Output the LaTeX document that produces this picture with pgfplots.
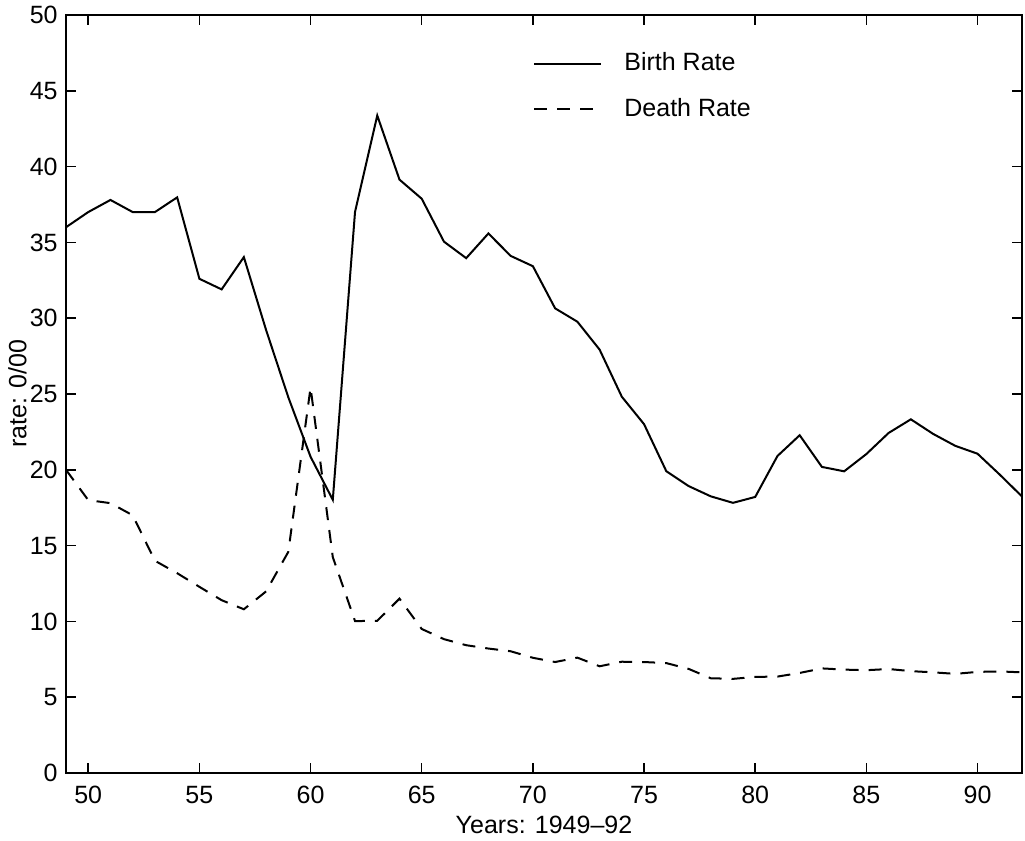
\documentclass[border=0pt]{standalone}
\usepackage{pgfplots}
\pgfplotsset{compat=1.18}
\usepackage{fontspec}
\setmainfont{Liberation Sans}
\begin{document}
\begin{tikzpicture}
\begin{axis}[
  scale only axis,
  width=478pt, height=379pt,
  xmin=49, xmax=92, ymin=0, ymax=50,
  xtick={50,55,...,90}, ytick={0,5,...,50},
  tick align=inside,
  major tick length=5pt,
  axis line style={line width=0.75pt},
  every tick/.style={line width=0.75pt, black},
  /pgf/number format/assume math mode=true,
  tick label style={font=\fontsize{12.5}{14}\selectfont, inner sep=0pt},
  xticklabel style={anchor=base, yshift=-15pt},
  yticklabel style={anchor=east, xshift=-4pt},
  label style={font=\fontsize{12.5}{15}\selectfont},
  xlabel={Years: 1949--92},
  xlabel style={at={(axis description cs:0.5,0)}, anchor=base, yshift=-30pt, inner sep=0pt},
  ylabel={rate: 0/00},
  ylabel style={at={(axis description cs:0,0.5)}, anchor=center, yshift=24.25pt, inner sep=0pt},
  legend cell align=left,
  legend image code/.code={\draw[#1] (0pt,0pt) -- (33.5pt,0pt);},
  legend style={draw=none, fill=none, at={(rel axis cs:0.4885,0.9505)}, anchor=north west,
    inner sep=0pt, row sep=11.7pt, font=\fontsize{12.5}{15}\selectfont,
    nodes={inner sep=0pt, text height=9pt, text depth=2pt},
    /tikz/every odd column/.append style={column sep=11pt}},
]
\addplot[black, line width=1pt] coordinates {
(49,36.0)(50,37.0)(51,37.8)(52,37.0)(53,37.0)(54,37.97)(55,32.6)(56,31.9)(57,34.03)(58,29.22)
(59,24.78)(60,20.86)(61,18.02)(62,37.01)(63,43.37)(64,39.14)(65,37.88)(66,35.05)(67,33.96)(68,35.59)
(69,34.11)(70,33.43)(71,30.65)(72,29.77)(73,27.93)(74,24.82)(75,23.01)(76,19.91)(77,18.93)(78,18.25)
(79,17.82)(80,18.21)(81,20.91)(82,22.28)(83,20.19)(84,19.90)(85,21.04)(86,22.43)(87,23.33)(88,22.37)
(89,21.58)(90,21.06)(91,19.68)(92,18.24)
};
\addlegendentry{Birth Rate}
\addplot[black, line width=1pt, dash pattern=on 6.5pt off 5pt] coordinates {
(49,20.0)(50,18.0)(51,17.8)(52,17.0)(53,14.0)(54,13.18)(55,12.28)(56,11.40)(57,10.80)(58,11.98)
(59,14.59)(60,25.43)(61,14.24)(62,10.02)(63,10.04)(64,11.50)(65,9.50)(66,8.83)(67,8.43)(68,8.21)
(69,8.03)(70,7.60)(71,7.32)(72,7.61)(73,7.04)(74,7.34)(75,7.32)(76,7.25)(77,6.87)(78,6.25)
(79,6.21)(80,6.34)(81,6.36)(82,6.60)(83,6.90)(84,6.82)(85,6.78)(86,6.86)(87,6.72)(88,6.64)
(89,6.54)(90,6.67)(91,6.70)(92,6.64)
};
\addlegendentry{Death Rate}
\end{axis}
\pgfresetboundingbox
\path ([xshift=-33pt,yshift=-33.5pt]current axis.south west) rectangle ([xshift=1.5pt,yshift=7.5pt]current axis.north east);
\end{tikzpicture}
\end{document}
